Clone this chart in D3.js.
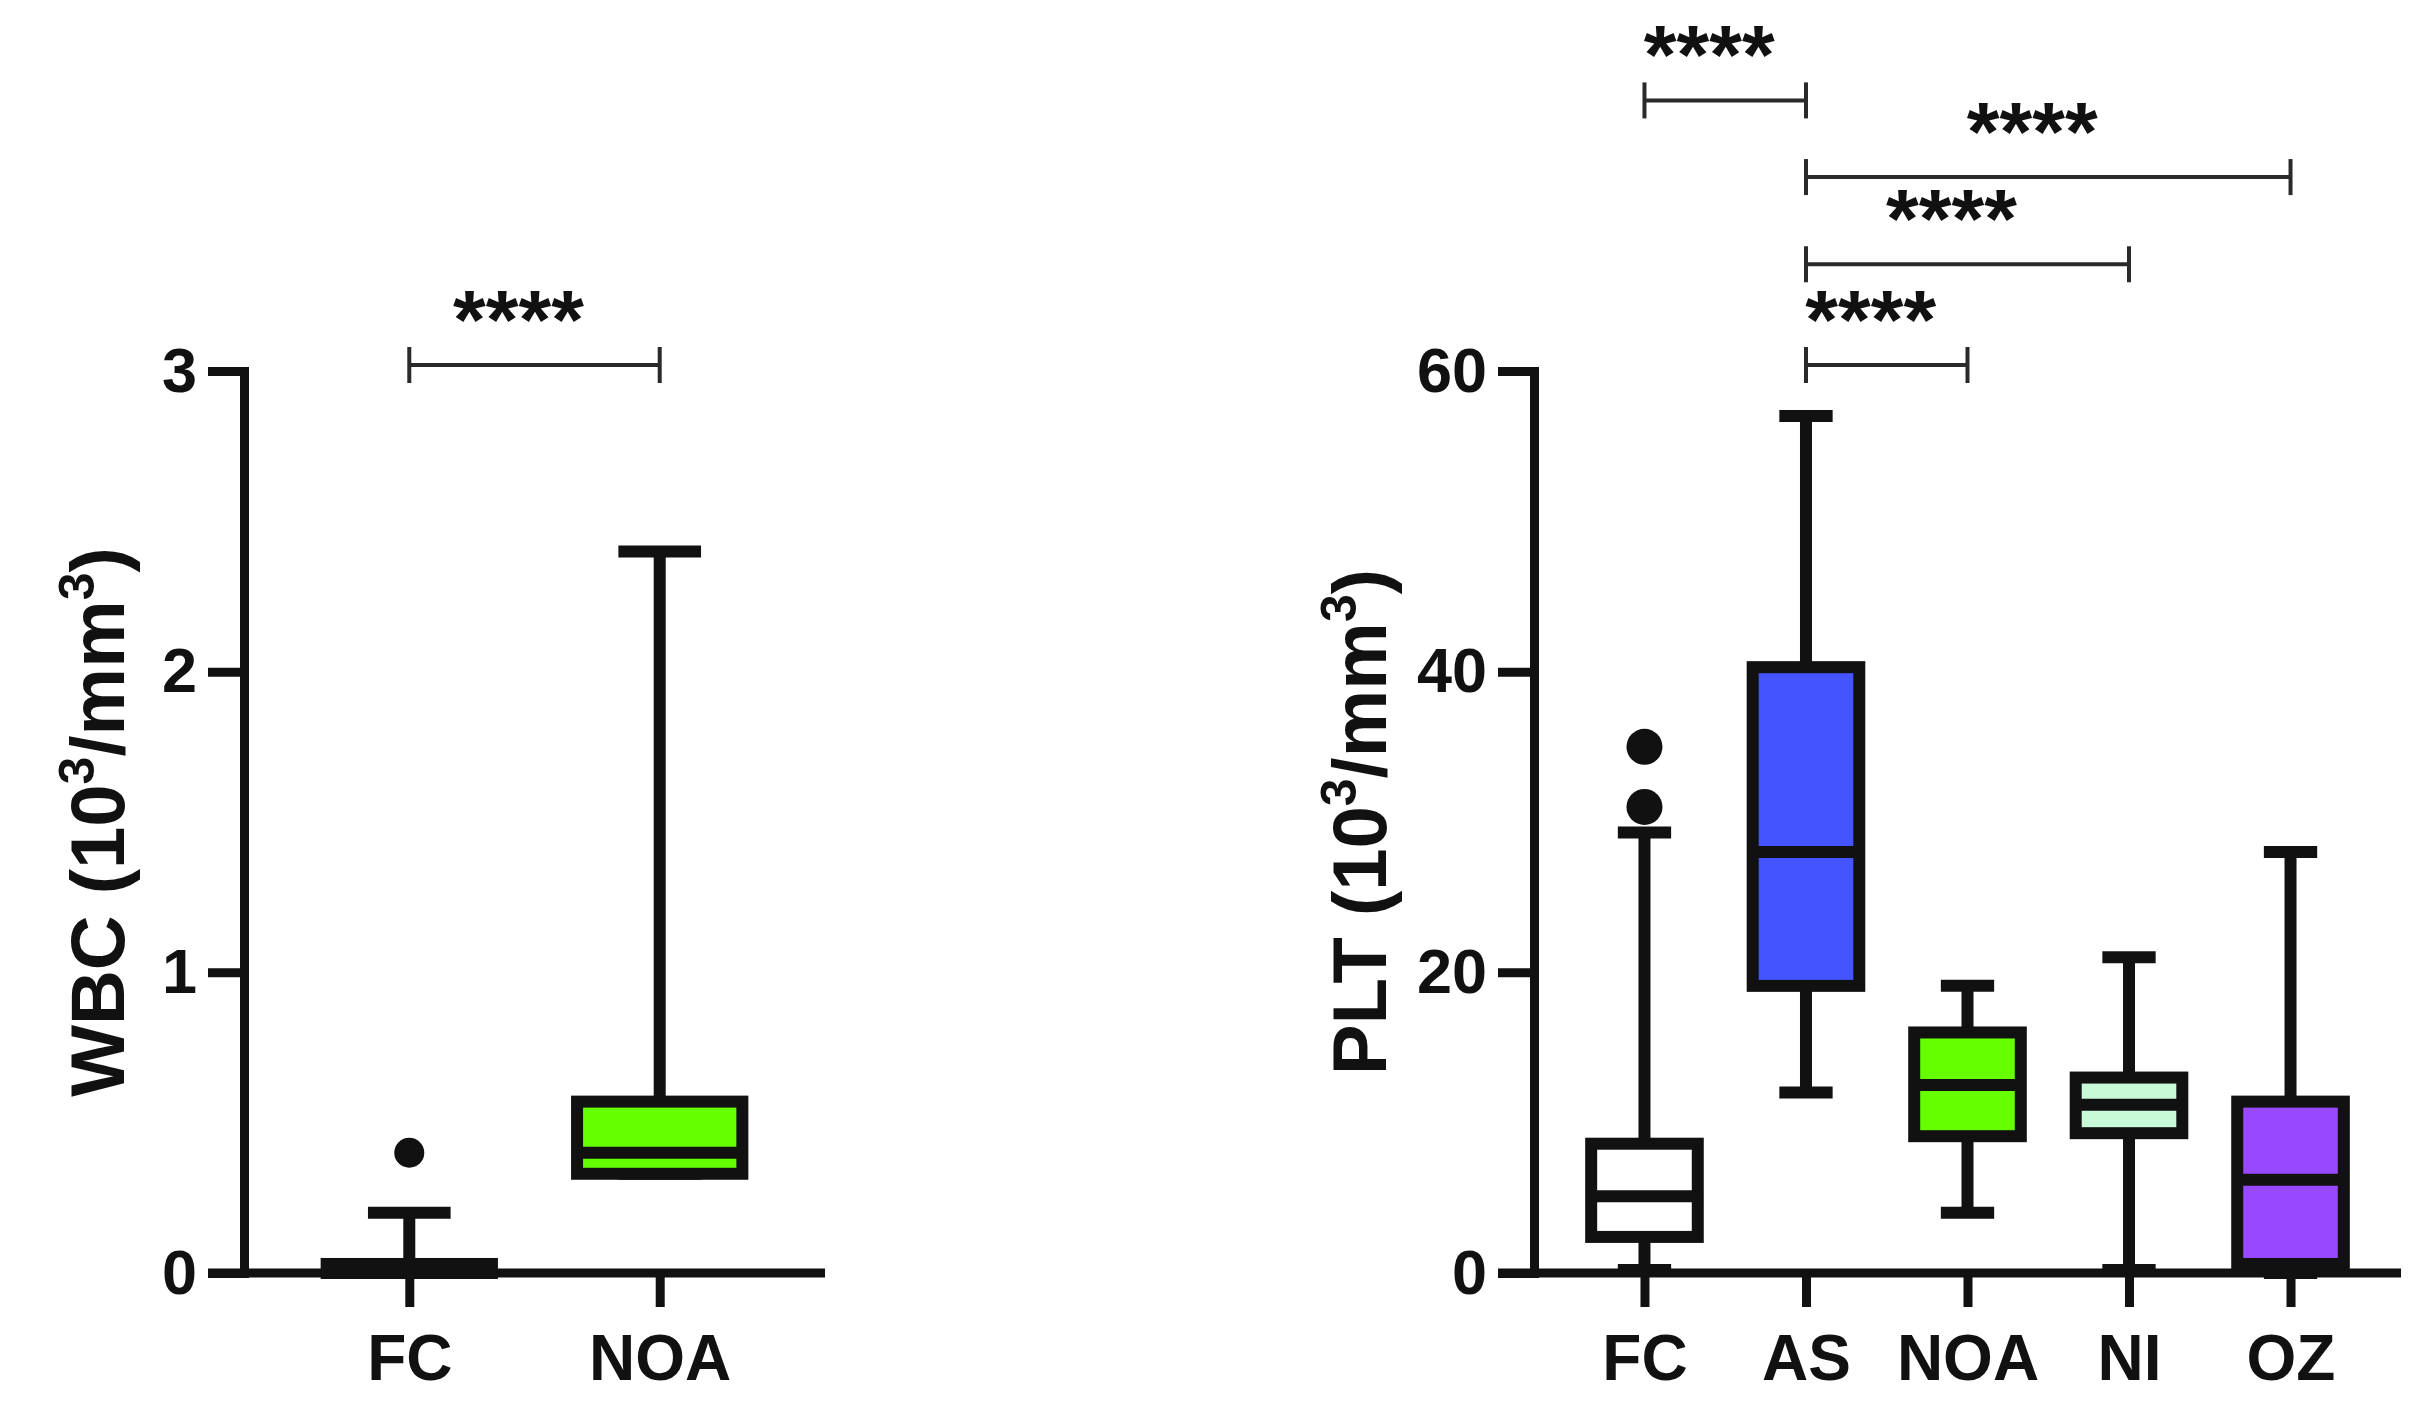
<!DOCTYPE html>
<html>
<head>
<meta charset="utf-8">
<script src="https://cdn.jsdelivr.net/npm/d3@7"></script>
<style>
  body { margin: 0; background: #fff; }
  text { font-family: "Liberation Sans", Arial, sans-serif; font-weight: bold; fill: #111; }
</style>
</head>
<body>
<svg id="chart" width="2427" height="1419"></svg>
<script>
"use strict";

// WBC panel data (10^3/mm^3)
const wbcGroups = ["FC", "NOA"];
const wbcMin = [0, 0.33];
const wbcQ1 = [0, 0.33];
const wbcMedian = [0.01, 0.40];
const wbcQ3 = [0.03, 0.57];
const wbcMax = [0.2, 2.4];
const wbcOutliers = [[0.4], []];
const wbcFills = ["#ffffff", "#66ff00"];
const wbcTicks = [0, 1, 2, 3];
const wbcBrackets = [{ from: "FC", to: "NOA", level: 3.02, label: "****" }];

// PLT panel data (10^3/mm^3)
const pltGroups = ["FC", "AS", "NOA", "NI", "OZ"];
const pltMin = [0.2, 12, 4, 0.2, 0];
const pltQ1 = [2.4, 19.1, 9.1, 9.3, 0.6];
const pltMedian = [5.1, 28, 12.5, 11.2, 6.2];
const pltQ3 = [8.6, 40.3, 16.0, 13.0, 11.4];
const pltMax = [29.3, 57, 19.1, 21, 28];
const pltOutliers = [[31, 35], [], [], [], []];
const pltFills = ["#ffffff", "#4455ff", "#66ff00", "#c8fad8", "#9848ff"];
const pltTicks = [0, 20, 40, 60];
const pltBrackets = [
    { from: "FC", to: "AS", level: 78, label: "****" },
    { from: "AS", to: "OZ", level: 72.9, label: "****" },
    { from: "AS", to: "NI", level: 67.1, label: "****" },
    { from: "AS", to: "NOA", level: 60.4, label: "****" }
];

const svg = d3.select("#chart");
const ink = "#111";
const tickLen = 36;

function drawPanel(p) {
    const g = svg.append("g");

    const x = d3.scalePoint()
        .domain(p.groups)
        .range([p.left, p.right])
        .padding(p.pad);
    const y = d3.scaleLinear()
        .domain(p.domain)
        .range([p.bottom, p.top]);

    const boxW = x.step() * 0.66;
    const capW = boxW * 0.5;

    const rows = p.groups.map((name, i) => ({
        name: name,
        min: p.min[i], q1: p.q1[i], median: p.median[i], q3: p.q3[i], max: p.max[i],
        outliers: p.outliers[i], fill: p.fills[i]
    }));

    // y axis
    const yAxis = g.append("g")
        .attr("transform", `translate(${p.left},0)`)
        .call(d3.axisLeft(y).tickValues(p.ticks).tickSize(tickLen).tickSizeOuter(0).tickPadding(11)
            .tickFormat(d3.format("d")));
    yAxis.select(".domain").attr("stroke", ink).attr("stroke-width", 9).attr("stroke-linecap", "square");
    yAxis.selectAll(".tick line").attr("stroke", ink).attr("stroke-width", 9);
    yAxis.selectAll(".tick text").attr("font-size", 63).attr("font-family", null).attr("fill", ink);

    // x axis
    const xAxis = g.append("g")
        .attr("transform", `translate(0,${p.bottom})`)
        .call(d3.axisBottom(x).tickSize(34).tickSizeOuter(0).tickPadding(28));
    xAxis.select(".domain").remove();
    xAxis.selectAll(".tick line").attr("stroke", ink).attr("stroke-width", 9);
    xAxis.selectAll(".tick text").attr("font-size", 64).attr("font-family", null).attr("fill", ink);
    xAxis.append("line")
        .attr("x1", p.left - tickLen)
        .attr("x2", p.right)
        .attr("stroke", ink)
        .attr("stroke-width", 9);

    // y label
    const label = g.append("text")
        .attr("transform", `translate(${p.labelX},${(p.top + p.bottom) / 2}) rotate(-90)`)
        .attr("text-anchor", "middle")
        .attr("font-size", 76);
    label.append("tspan").text(p.title + " (10");
    label.append("tspan").attr("font-size", 50).attr("dy", -30).text("3");
    label.append("tspan").attr("dy", 30).text("/mm");
    label.append("tspan").attr("font-size", 50).attr("dy", -30).text("3");
    label.append("tspan").attr("dy", 30).text(")");

    const boxes = g.append("g").selectAll("g").data(rows).join("g");

    // whiskers
    boxes.append("line")
        .attr("x1", d => x(d.name)).attr("x2", d => x(d.name))
        .attr("y1", d => y(d.max)).attr("y2", d => y(d.min))
        .attr("stroke", ink).attr("stroke-width", 12);
    boxes.append("line")
        .attr("x1", d => x(d.name) - capW / 2).attr("x2", d => x(d.name) + capW / 2)
        .attr("y1", d => y(d.max)).attr("y2", d => y(d.max))
        .attr("stroke", ink).attr("stroke-width", 12);
    boxes.append("line")
        .attr("x1", d => x(d.name) - capW / 2).attr("x2", d => x(d.name) + capW / 2)
        .attr("y1", d => y(d.min)).attr("y2", d => y(d.min))
        .attr("stroke", ink).attr("stroke-width", 12);

    // box
    boxes.append("rect")
        .attr("x", d => x(d.name) - boxW / 2)
        .attr("width", boxW)
        .attr("y", d => y(d.q3))
        .attr("height", d => Math.max(0, y(d.q1) - y(d.q3)))
        .attr("fill", d => d.fill)
        .attr("stroke", ink)
        .attr("stroke-width", 12);
    boxes.append("line")
        .attr("x1", d => x(d.name) - boxW / 2).attr("x2", d => x(d.name) + boxW / 2)
        .attr("y1", d => y(d.median)).attr("y2", d => y(d.median))
        .attr("stroke", ink).attr("stroke-width", 12);

    // outliers
    boxes.selectAll("circle")
        .data(d => d.outliers.map(v => ({ name: d.name, v: v })))
        .join("circle")
        .attr("cx", d => x(d.name))
        .attr("cy", d => y(d.v))
        .attr("r", p.dotR)
        .attr("fill", ink);

    // significance brackets
    const br = g.append("g").selectAll("g").data(p.brackets).join("g");
    br.append("line")
        .attr("x1", d => x(d.from)).attr("x2", d => x(d.to))
        .attr("y1", d => y(d.level)).attr("y2", d => y(d.level))
        .attr("stroke", "#2a2a2a").attr("stroke-width", 4);
    br.append("line")
        .attr("x1", d => x(d.from)).attr("x2", d => x(d.from))
        .attr("y1", d => y(d.level) - 18).attr("y2", d => y(d.level) + 18)
        .attr("stroke", "#2a2a2a").attr("stroke-width", 4);
    br.append("line")
        .attr("x1", d => x(d.to)).attr("x2", d => x(d.to))
        .attr("y1", d => y(d.level) - 18).attr("y2", d => y(d.level) + 18)
        .attr("stroke", "#2a2a2a").attr("stroke-width", 4);
    br.append("text")
        .attr("x", d => (x(d.from) + x(d.to)) / 2 - 16)
        .attr("y", d => y(d.level) - 16)
        .attr("text-anchor", "middle")
        .attr("font-size", 84)
        .text(d => d.label);
}

drawPanel({
    title: "WBC", groups: wbcGroups, domain: [0, 3], ticks: wbcTicks,
    min: wbcMin, q1: wbcQ1, median: wbcMedian, q3: wbcQ3, max: wbcMax,
    outliers: wbcOutliers, fills: wbcFills, brackets: wbcBrackets,
    left: 244, right: 825, top: 371, bottom: 1273, pad: 0.66, labelX: 124, dotR: 15
});

drawPanel({
    title: "PLT", groups: pltGroups, domain: [0, 60], ticks: pltTicks,
    min: pltMin, q1: pltQ1, median: pltMedian, q3: pltQ3, max: pltMax,
    outliers: pltOutliers, fills: pltFills, brackets: pltBrackets,
    left: 1534, right: 2401, top: 371, bottom: 1273, pad: 0.684, labelX: 1386, dotR: 18
});
</script>
</body>
</html>
